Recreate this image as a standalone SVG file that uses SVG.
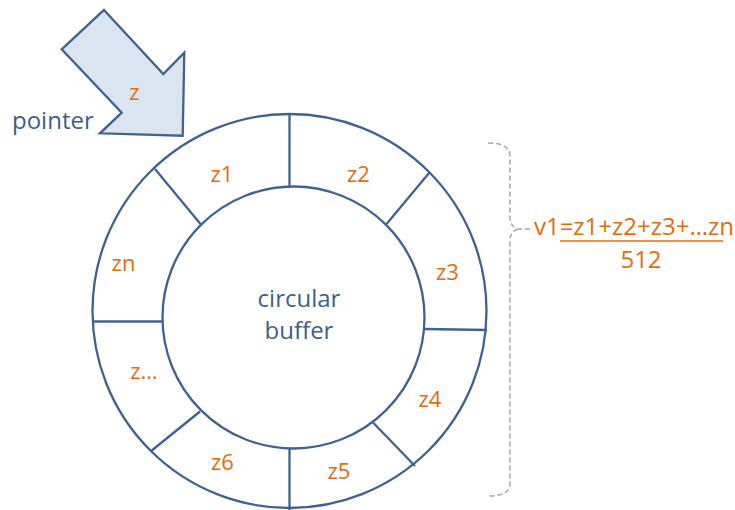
<svg xmlns="http://www.w3.org/2000/svg" width="735" height="510" viewBox="0 0 735 510">
<style>
.ring{fill:none;stroke:#3f6291;stroke-width:2.3}
.sp{stroke:#3f6291;stroke-width:2.3}
.lab{font-family:"Open Sans","Liberation Sans",sans-serif;font-size:22px;fill:#e46c0a;text-anchor:middle}
.fx{font-size:24px}
.blue{font-family:"Open Sans","Liberation Sans",sans-serif;font-size:24px;fill:#3d5f8b}
.brace{fill:none;stroke:#a6a6a6;stroke-width:1.5;stroke-dasharray:5,3}
</style>
<rect width="735" height="510" fill="#ffffff"/>
<g id="buffer">
<circle class="ring" cx="289.5" cy="311" r="197"/>
<circle class="ring" cx="293.5" cy="317.5" r="131"/>
</g>
<g id="connectors">
<line class="sp" x1="289.5" y1="114" x2="289.5" y2="187"/>
<line class="sp" x1="429.5" y1="172.5" x2="386.5" y2="224"/>
<line class="sp" x1="424.5" y1="329" x2="487" y2="330"/>
<line class="sp" x1="373" y1="422.5" x2="415" y2="466"/>
<line class="sp" x1="289.5" y1="448.5" x2="289.5" y2="510"/>
<line class="sp" x1="200" y1="411.5" x2="150.5" y2="451.5"/>
<line class="sp" x1="92" y1="321.5" x2="162.5" y2="321.5"/>
<line class="sp" x1="155" y1="169" x2="200.5" y2="224"/>
<path class="brace" d="M488,143 Q510,143 510,156 L510,219 Q511,227 518,229 L531,229 M518,229 Q511,231 510,239 L510,484 Q510,496 488,496"/>
</g>
<g id="pointer">
<polygon points="104,10 163.3,74 184.3,52.7 182.7,135.7 100,133.3 121.7,112.7 61.7,49.3" fill="#dbe5f1" stroke="#3f6291" stroke-width="2.3" stroke-linejoin="miter"/>
<text class="lab" x="134.5" y="100">z</text>
<text class="blue" x="12" y="128.5">pointer</text>
</g>
<g id="labels">
<text class="lab" x="222" y="181.5">z1</text>
<text class="lab" x="358.5" y="181.5">z2</text>
<text class="lab" x="123.5" y="270.5">zn</text>
<text class="lab" x="447.5" y="280">z3</text>
<text class="lab" x="144" y="379">z…</text>
<text class="lab" x="430" y="406.5">z4</text>
<text class="lab" x="222.5" y="470">z6</text>
<text class="lab" x="339" y="479">z5</text>
<text class="blue" x="299" y="307" text-anchor="middle">circular</text>
<text class="blue" x="299" y="339" text-anchor="middle">buffer</text>
</g>
<g id="formula">
<text class="lab fx" x="634" y="235">v1=z1+z2+z3+…zn</text>
<line x1="560" y1="241" x2="723" y2="241" stroke="#e46c0a" stroke-width="1.5"/>
<text class="lab fx" x="641" y="267.5">512</text>
</g>
</svg>
